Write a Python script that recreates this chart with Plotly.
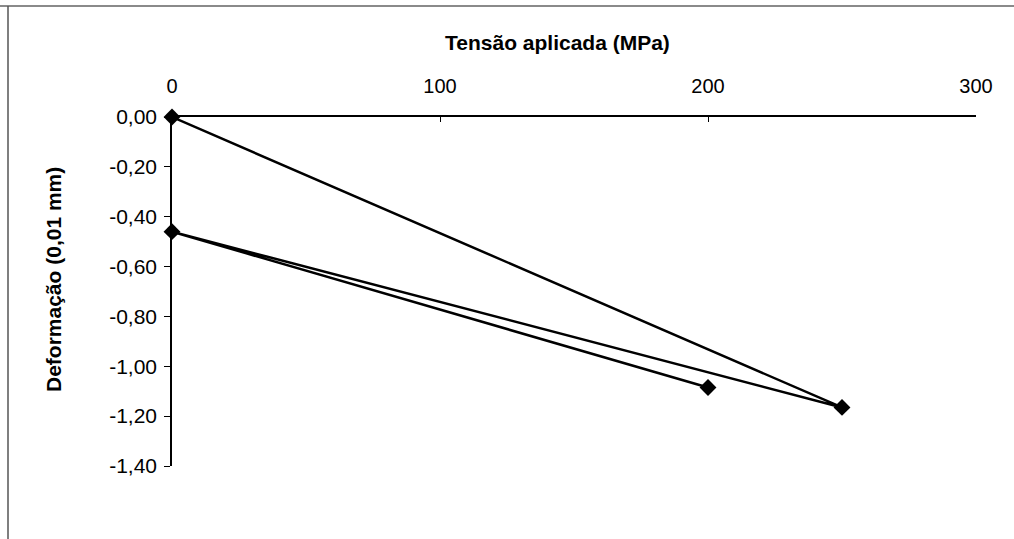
import plotly.graph_objects as go

# Data (path order as drawn)
tensao = [0, 250, 0, 200]
deformacao = [0.00, -1.165, -0.46, -1.085]

x_ticks = [0, 100, 200, 300]
y_ticks = [0.00, -0.20, -0.40, -0.60, -0.80, -1.00, -1.20, -1.40]
x_title = "Tensão aplicada (MPa)"
y_title = "Deformação (0,01 mm)"

W, H = 1014, 539
L, R, T, B = 172, 38, 117, 73
pw, ph = W - L - R, H - T - B

def px(xp):
    return (xp - L) / pw

def py(yp):
    return (H - B - yp) / ph

font_family = "Liberation Sans, Arial, sans-serif"

y_text = [("%.2f" % v).replace(".", ",") for v in y_ticks]

fig = go.Figure()
fig.add_trace(go.Scatter(
    x=tensao, y=deformacao, mode="lines+markers",
    line=dict(color="black", width=2.5),
    marker=dict(symbol="diamond", size=13, color="black"),
    cliponaxis=False, showlegend=False,
))

fig.update_layout(
    width=W, height=H,
    margin=dict(l=L, r=R, t=T, b=B),
    paper_bgcolor="white", plot_bgcolor="white",
    separators=",.",
    font=dict(family=font_family, size=19, color="black"),
    xaxis=dict(
        side="top", range=[0, 300], tickvals=x_ticks, ticktext=[str(v) for v in x_ticks],
        showgrid=False, zeroline=False, showline=True, linecolor="black", linewidth=1.5,
        ticks="inside", ticklen=5, tickcolor="black", tickwidth=1,
        ticklabelstandoff=14, tickfont=dict(size=20),
    ),
    yaxis=dict(
        range=[-1.4, 0], tickvals=y_ticks, ticktext=y_text,
        showgrid=False, zeroline=False, showline=True, linecolor="black", linewidth=1.5,
        ticks="outside", ticklen=6, tickcolor="black", tickwidth=1,
        ticklabelstandoff=3, tickfont=dict(size=21),
    ),
    annotations=[
        dict(text="<b>" + x_title + "</b>", x=px(557), y=py(42), xref="paper", yref="paper",
             showarrow=False, font=dict(size=21, family=font_family), xanchor="center", yanchor="middle"),
        dict(text="<b>" + y_title + "</b>", x=px(53), y=py(280), xref="paper", yref="paper",
             showarrow=False, textangle=-90, font=dict(size=21, family=font_family),
             xanchor="center", yanchor="middle"),
    ],
    shapes=[
        dict(type="line", xref="paper", yref="paper", x0=px(0), x1=px(1014), y0=py(6), y1=py(6),
             line=dict(color="#8a8a8a", width=2)),
        dict(type="line", xref="paper", yref="paper", x0=px(8), x1=px(8), y0=py(6), y1=py(539),
             line=dict(color="#555555", width=1.5)),
    ],
)

fig.write_html("out.html", config={"displayModeBar": False},
               post_script="document.body.style.margin='0';document.body.style.padding='0';")
